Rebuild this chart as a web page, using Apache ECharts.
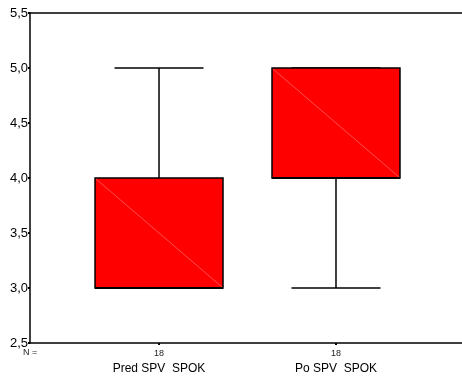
<!DOCTYPE html>
<html>
<head>
<meta charset="utf-8">
<script src="https://cdn.jsdelivr.net/npm/echarts@6/dist/echarts.min.js"></script>
<style>html,body{margin:0;padding:0;background:#fff}#c{width:462px;height:376px}</style>
</head>
<body>
<div id="c"></div>
<script>
var categories = ['Pred SPV  SPOK', 'Po SPV  SPOK'];
var nCounts = [18, 18];
var minVals = [3.0, 3.0];
var q1Vals = [3.0, 4.0];
var medianVals = [3.0, 4.0];
var q3Vals = [4.0, 5.0];
var maxVals = [5.0, 5.0];
var yTicks = [2.5, 3.0, 3.5, 4.0, 4.5, 5.0, 5.5];

var data = categories.map(function (c, i) {
  return [i + 1, minVals[i], q1Vals[i], medianVals[i], q3Vals[i], maxVals[i]];
});

var chart = echarts.init(document.getElementById('c'), null, {renderer: 'canvas'});
var FONT = 'Liberation Sans, Arial, sans-serif';
chart.setOption({
  animation: false,
  backgroundColor: '#fff',
  grid: {left: 30, right: 0, top: 13, bottom: 33, containLabel: false},
  xAxis: [{
    type: 'value', min: 0.271, max: 2.712, position: 'bottom',
    splitLine: {show: false},
    axisLine: {show: true, lineStyle: {color: '#000', width: 1.5}},
    axisTick: {show: true, customValues: [1, 2], length: 2, inside: false, lineStyle: {color: '#000', width: 2}},
    axisLabel: {
      show: true, customValues: [1, 2], margin: 4, fontFamily: FONT, color: '#000',
      formatter: function (v) {
        var i = Math.round(v) - 1;
        return '{n|' + nCounts[i] + '}\n{c|' + categories[i] + '}';
      },
      rich: {
        n: {fontSize: 9, lineHeight: 14, fontFamily: FONT, color: '#222'},
        c: {fontSize: 12, lineHeight: 16, fontFamily: FONT, color: '#000'}
      }
    }
  }, {
    type: 'value', min: 0.271, max: 2.712, position: 'top',
    splitLine: {show: false},
    axisLine: {show: true, lineStyle: {color: '#000', width: 1.5}},
    axisTick: {show: false}, axisLabel: {show: false}
  }],
  yAxis: {
    type: 'value', min: 2.5, max: 5.5, interval: 0.5,
    splitLine: {show: false},
    axisLine: {show: true, lineStyle: {color: '#000', width: 1.5}},
    axisTick: {show: true, length: 2, lineStyle: {color: '#000', width: 2}},
    axisLabel: {
      margin: 2, fontSize: 13, fontFamily: FONT, color: '#000',
      formatter: function (v) { return v.toFixed(1).replace('.', ','); }
    }
  },
  graphic: [{
    type: 'text', left: 23, top: 348,
    style: {text: 'N =', fontSize: 9, fontFamily: FONT, fill: '#222'}
  }],
  series: [{
    type: 'custom',
    xAxisIndex: 0,
    data: data,
    renderItem: function (params, api) {
      var x = api.value(0);
      var boxHalf = 0.3616, capHalf = 0.2514;
      var pMin = api.coord([x, api.value(1)]);
      var pQ1 = api.coord([x, api.value(2)]);
      var pMed = api.coord([x, api.value(3)]);
      var pQ3 = api.coord([x, api.value(4)]);
      var pMax = api.coord([x, api.value(5)]);
      var xl = api.coord([x - boxHalf, 0])[0];
      var xr = api.coord([x + boxHalf, 0])[0];
      var cl = api.coord([x - capHalf, 0])[0];
      var cr = api.coord([x + capHalf, 0])[0];
      var cx = pMin[0];
      var ls = {stroke: '#000', lineWidth: 1.5};
      return {
        type: 'group',
        children: [
          {type: 'line', shape: {x1: cx, y1: pQ3[1], x2: cx, y2: pMax[1]}, style: ls},
          {type: 'line', shape: {x1: cl, y1: pMax[1], x2: cr, y2: pMax[1]}, style: ls},
          {type: 'line', shape: {x1: cx, y1: pQ1[1], x2: cx, y2: pMin[1]}, style: ls},
          {type: 'line', shape: {x1: cl, y1: pMin[1], x2: cr, y2: pMin[1]}, style: ls},
          {type: 'rect', shape: {x: xl, y: pQ3[1], width: xr - xl, height: pQ1[1] - pQ3[1]},
            style: {fill: '#ff0000', stroke: '#000', lineWidth: 1.5}},
          {type: 'line', shape: {x1: xl + 1, y1: pQ3[1] + 1, x2: xr - 1, y2: pQ1[1] - 1},
            style: {stroke: '#ff7070', lineWidth: 0.7}},
          {type: 'line', shape: {x1: xl, y1: pMed[1], x2: xr, y2: pMed[1]},
            style: {stroke: '#000', lineWidth: 2.2}}
        ]
      };
    }
  }]
});
</script>
</body>
</html>
